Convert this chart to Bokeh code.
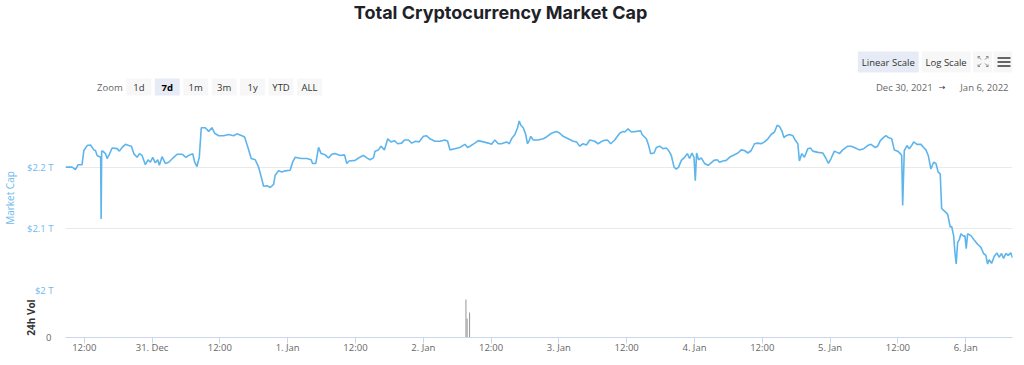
import pandas as pd
from bokeh.plotting import figure
from bokeh.layouts import column
from bokeh.models import Range1d, FixedTicker, CustomJSTickFormatter
from bokeh.core.properties import value
from bokeh.embed import file_html
from bokeh.resources import INLINE

# ---------------- data ----------------
title_text = "Total Cryptocurrency Market Cap"
origin = "2021-12-30 00:00"

# hours after Dec 30 2021 00:00, and total market cap in trillions of USD
hours = [
    8.68, 9.86, 10.44, 10.92, 11.61, 11.93, 12.51, 13.10, 13.70, 13.98, 14.28, 14.69, 14.90, 14.99, 15.08,
    15.29, 15.75, 16.05, 16.35, 16.93, 17.81, 18.22, 18.70, 19.28, 19.88, 20.34, 20.77, 21.35, 21.76,
    22.23, 22.82, 23.29, 23.70, 24.12, 24.58, 25.01, 25.29, 25.77, 26.35, 26.95, 27.84, 28.42, 29.30,
    30.01, 30.49, 31.19, 31.55, 31.95, 32.36, 32.71, 33.42, 34.02, 34.60, 35.08, 35.79, 36.67, 37.55,
    38.44, 39.02, 39.91, 40.38, 40.97, 41.55, 42.26, 42.86, 43.32, 43.74, 44.32, 44.91, 45.51, 45.79,
    46.39, 46.97, 47.56, 48.44, 48.87, 49.33, 49.93, 50.51, 51.39, 52.15, 52.40, 52.98, 53.46, 53.92,
    54.63, 55.23, 55.81, 56.39, 57.28, 58.06, 58.46, 58.87, 59.93, 60.41, 60.94,
    61.41, 62.00, 62.58, 63.18, 63.46, 64.06, 64.52, 65.12, 65.71, 66.29, 66.89, 67.48, 68.18, 68.66,
    69.37, 69.95, 70.66, 71.24, 72.02, 72.60, 73.18, 74.07, 74.95, 75.83, 76.31, 76.72, 77.60, 78.49,
    79.37, 79.84, 80.25, 81.14, 81.74, 82.62, 83.50, 84.09, 84.67, 85.27, 85.85, 86.74, 87.22, 87.62,
    88.21, 88.68, 88.98, 89.27, 89.69, 90.10, 90.45, 90.75, 91.03, 91.46, 92.34, 93.22, 93.81, 94.69,
    95.58, 96.16, 96.76, 97.64, 98.53, 99.11, 99.69, 100.29, 100.88, 101.46, 102.34, 102.94,
    103.83, 104.59, 105.17, 105.88, 106.76, 107.36, 107.65, 108.25, 108.83, 109.71, 110.47, 110.72,
    111.48, 111.89, 112.24, 112.84, 113.25, 113.83, 114.43, 115.01, 115.42, 115.90, 116.38, 116.78,
    117.19, 117.67, 118.25, 118.73, 119.13, 119.56, 119.91, 120.14, 120.37, 120.72, 121.20, 121.78,
    122.38, 122.84, 123.44, 124.03, 124.43, 125.03, 125.62, 126.20, 126.80, 127.69, 128.27, 128.85,
    129.45, 130.04, 130.62, 131.22, 131.81, 132.39, 132.99, 133.57, 134.16, 134.63, 135.04, 135.46,
    135.82, 136.22, 136.81, 137.41, 137.81, 138.29, 138.57, 138.99, 139.45, 140.06, 140.52, 140.94,
    141.83, 142.71, 143.29, 143.70, 144.17, 144.76, 145.23, 145.64, 146.24, 147.12,
    147.71, 148.29, 149.18, 149.95, 150.66, 151.24, 151.95, 152.43, 152.89, 153.59, 153.89, 154.30,
    154.90, 155.36, 155.96, 156.42, 156.67, 156.84, 157.13, 157.60, 158.01, 158.43, 158.79, 159.37,
    160.08, 160.56, 160.96, 161.37, 161.84, 162.32, 162.73, 163.13, 163.49, 163.74, 164.20, 164.80,
    165.26, 165.51, 165.86, 166.09, 166.32, 166.57, 166.85, 167.15, 167.63, 167.86, 168.09, 168.34,
    168.92, 169.50, 170.10, 170.69, 171.16, 171.57, 171.87, 172.15, 172.58, 173.04, 173.51, 173.92,
    174.34, 174.70, 175.10, 175.51, 175.98, 176.28,
]
market_cap_t = [
    2.200, 2.200, 2.196, 2.204, 2.204, 2.227, 2.235, 2.236, 2.228, 2.227, 2.219, 2.217, 2.217, 2.116, 2.226,
    2.226, 2.222, 2.214, 2.219, 2.231, 2.230, 2.226, 2.232, 2.237, 2.235, 2.234, 2.222, 2.216, 2.222,
    2.219, 2.204, 2.212, 2.208, 2.216, 2.207, 2.212, 2.203, 2.217, 2.206, 2.208, 2.216, 2.221, 2.221,
    2.216, 2.219, 2.222, 2.208, 2.201, 2.216, 2.264, 2.264, 2.258, 2.264, 2.255, 2.251, 2.251, 2.253,
    2.251, 2.254, 2.251, 2.249, 2.232, 2.214, 2.212, 2.200, 2.184, 2.169, 2.170, 2.167, 2.172, 2.187,
    2.194, 2.192, 2.194, 2.195, 2.208, 2.216, 2.215, 2.214, 2.214, 2.212, 2.206, 2.206, 2.232, 2.222,
    2.220, 2.215, 2.221, 2.222, 2.219, 2.220, 2.206, 2.210, 2.211, 2.214, 2.217,
    2.219, 2.215, 2.212, 2.215, 2.226, 2.228, 2.234, 2.228, 2.246, 2.241, 2.243, 2.238, 2.239, 2.244,
    2.244, 2.239, 2.242, 2.241, 2.250, 2.251, 2.246, 2.242, 2.242, 2.244, 2.242, 2.228, 2.230, 2.232,
    2.237, 2.232, 2.234, 2.239, 2.243, 2.241, 2.239, 2.237, 2.244, 2.238, 2.238, 2.241, 2.238, 2.246,
    2.253, 2.264, 2.275, 2.268, 2.264, 2.254, 2.238, 2.243, 2.250, 2.244, 2.244, 2.246, 2.249, 2.255,
    2.258, 2.255, 2.250, 2.246, 2.242, 2.241, 2.234, 2.238, 2.236, 2.244, 2.242, 2.238,
    2.243, 2.244, 2.238, 2.244, 2.255, 2.258, 2.257, 2.262, 2.257, 2.258, 2.259, 2.253,
    2.246, 2.235, 2.222, 2.223, 2.232, 2.234, 2.230, 2.231, 2.227, 2.219, 2.200, 2.197,
    2.200, 2.211, 2.216, 2.222, 2.214, 2.223, 2.216, 2.178, 2.223, 2.212, 2.215, 2.206,
    2.203, 2.206, 2.211, 2.212, 2.208, 2.210, 2.211, 2.216, 2.219, 2.223, 2.228, 2.227,
    2.223, 2.227, 2.238, 2.239, 2.238, 2.241, 2.246, 2.253, 2.257, 2.268, 2.266, 2.259,
    2.248, 2.251, 2.253, 2.251, 2.244, 2.238, 2.210, 2.222, 2.216, 2.230, 2.231, 2.226,
    2.224, 2.223, 2.214, 2.206, 2.214, 2.226, 2.224, 2.222, 2.228, 2.234,
    2.234, 2.232, 2.228, 2.230, 2.235, 2.237, 2.232, 2.234, 2.243, 2.249, 2.251, 2.248,
    2.246, 2.228, 2.226, 2.222, 2.219, 2.138, 2.227, 2.235, 2.230, 2.235, 2.241, 2.237,
    2.237, 2.232, 2.228, 2.219, 2.197, 2.208, 2.206, 2.192, 2.189, 2.133, 2.129, 2.124,
    2.103, 2.104, 2.089, 2.062, 2.043, 2.078, 2.082, 2.092, 2.088, 2.089, 2.068, 2.092,
    2.089, 2.082, 2.075, 2.070, 2.060, 2.057, 2.043, 2.050, 2.044, 2.055, 2.061, 2.054,
    2.060, 2.052, 2.060, 2.057, 2.061, 2.053,
]

vol_hours = [79.55, 79.76, 80.20]
vol_t = [1.90, 0.95, 1.25]

x_tick_times = [
    "2021-12-30 12:00", "2021-12-31 00:00", "2021-12-31 12:00", "2022-01-01 00:00",
    "2022-01-01 12:00", "2022-01-02 00:00", "2022-01-02 12:00", "2022-01-03 00:00",
    "2022-01-03 12:00", "2022-01-04 00:00", "2022-01-04 12:00", "2022-01-05 00:00",
    "2022-01-05 12:00", "2022-01-06 00:00",
]
x_tick_labels = ["12:00", "31. Dec", "12:00", "1. Jan", "12:00", "2. Jan", "12:00",
                 "3. Jan", "12:00", "4. Jan", "12:00", "5. Jan", "12:00", "6. Jan"]
y_ticks = [2.0, 2.1, 2.2, 2.3]
y_tick_labels = ["$2 T", "$2.1 T", "$2.2 T", ""]
vol_ticks = [0.0]
vol_tick_labels = ["0"]

zoom_buttons = ["1d", "7d", "1m", "3m", "1y", "YTD", "ALL"]
selected_zoom = "7d"
scale_buttons = ["Linear Scale", "Log Scale"]
range_from, range_to = "Dec 30, 2021", "Jan 6, 2022"

# ---------------- style ----------------
FONT_NAME = "Open Sans"
FONT = value(FONT_NAME)
LINE = "#5db5ec"
BLUE = "#6fbaee"
GRID = "#e9e9e9"
W = 1024
BL, BR = 63, 12   # left / right borders so that the frame spans x 63..1012

JS_FMT = """
let best = -1, bd = Infinity;
for (let i = 0; i < tvals.length; i++) {
  const d = Math.abs(tvals[i] - tick);
  if (d < bd) { bd = d; best = i; }
}
return (best >= 0 && bd <= 1e-6 * Math.max(1, Math.abs(tick))) ? tlabels[best] : "";
"""


def fmt(vals, labels):
    return CustomJSTickFormatter(args=dict(tvals=vals, tlabels=labels), code=JS_FMT)


t0 = pd.Timestamp(origin)
times = t0 + pd.to_timedelta(hours, unit="h")
vol_times = t0 + pd.to_timedelta(vol_hours, unit="h")
x_tick_ms = [int(pd.Timestamp(t).value // 10**6) for t in x_tick_times]

x_range = Range1d(start=times[0].to_pydatetime(), end=times[-1].to_pydatetime())

# ---------------- header (title, buttons); its frame is in page pixels ----------------
head = figure(width=W, height=100, x_range=Range1d(BL, W - BR), y_range=Range1d(100, 0),
              output_backend="svg", toolbar_location=None,
              min_border_left=BL, min_border_right=BR, min_border_top=0, min_border_bottom=0,
              x_axis_location=None, y_axis_location=None, outline_line_color=None)
head.xgrid.visible = False
head.ygrid.visible = False

head.text(x=[499], y=[11.5], text=[title_text], text_align="center", text_baseline="middle",
          text_font=value("Inter"), text_font_size="18px", text_font_style="bold", text_color="#1e2228")

# scale buttons
sb_left = [857, 921]
sb_right = [918, 970]
head.quad(left=sb_left, right=sb_right, top=[51, 51], bottom=[72, 72],
          fill_color=["#e6ebf5", "#f7f7f7"], line_color=None)
head.text(x=[(a + b) / 2 for a, b in zip(sb_left, sb_right)], y=[61.5, 61.5], text=scale_buttons,
          text_align="center", text_baseline="middle", text_font=FONT, text_font_size="9.5px",
          text_color="#333333")
# fullscreen + menu buttons
head.quad(left=[972.5, 993], right=[991.5, 1012], top=[51, 51], bottom=[72, 72],
          fill_color="#f7f7f7", line_color=None)
head.segment(x0=[977.5, 987.5, 977.5, 987.5], y0=[56, 56, 66, 66],
             x1=[980.5, 984.5, 980.5, 984.5], y1=[59, 59, 63, 63], line_color="#8a8a8a", line_width=1)
head.segment(x0=[977.5, 977.5, 987.5, 987.5, 977.5, 977.5, 987.5, 987.5],
             y0=[56, 56, 56, 56, 66, 66, 66, 66],
             x1=[979.5, 977.5, 985.5, 987.5, 979.5, 977.5, 985.5, 987.5],
             y1=[56, 58, 56, 58, 66, 64, 66, 64], line_color="#8a8a8a", line_width=1)
head.segment(x0=[997, 997, 997], y0=[57.5, 61.5, 65.5], x1=[1010, 1010, 1010], y1=[57.5, 61.5, 65.5],
             line_color="#666666", line_width=2)

# zoom row
head.text(x=[107.5], y=[86.5], text=["Zoom"], text_align="center", text_baseline="middle",
          text_font=FONT, text_font_size="9.5px", text_color="#666666")
zc = [136.5 + 28.5 * i for i in range(len(zoom_buttons))]
head.quad(left=[c - 12.5 for c in zc], right=[c + 12.5 for c in zc], top=[78] * len(zc), bottom=[95] * len(zc),
          fill_color=["#e6ebf5" if b == selected_zoom else "#f7f7f7" for b in zoom_buttons], line_color=None)
head.text(x=[c for c, b in zip(zc, zoom_buttons) if b != selected_zoom], y=[86.5] * (len(zc) - 1),
          text=[b for b in zoom_buttons if b != selected_zoom], text_align="center", text_baseline="middle",
          text_font=FONT, text_font_size="9.5px", text_color="#333333")
head.text(x=[c for c, b in zip(zc, zoom_buttons) if b == selected_zoom], y=[86.5],
          text=[selected_zoom], text_align="center", text_baseline="middle",
          text_font=FONT, text_font_size="9.5px", text_font_style="bold", text_color="#000000")

# date range
head.text(x=[932], y=[86.5], text=[range_from], text_align="right", text_baseline="middle",
          text_font=FONT, text_font_size="9.5px", text_color="#666666")
head.text(x=[941.5], y=[86.5], text=["\u2192"], text_align="center", text_baseline="middle",
          text_font=value("DejaVu Sans"), text_font_size="8px", text_color="#333333")
head.text(x=[1008], y=[86.5], text=[range_to], text_align="right", text_baseline="middle",
          text_font=FONT, text_font_size="9.5px", text_color="#666666")

# ---------------- main pane ----------------
main = figure(width=W, height=197, x_axis_type="datetime", x_range=x_range, y_range=Range1d(2.0, 2.3),
              x_axis_location=None, output_backend="svg", toolbar_location=None,
              min_border_left=BL, min_border_right=BR, min_border_top=5, min_border_bottom=7,
              outline_line_color=None)
main.line(times, market_cap_t, line_color=LINE, line_width=1.6)
main.xgrid.visible = False
main.ygrid.ticker = FixedTicker(ticks=y_ticks)
main.ygrid.grid_line_color = GRID
ya = main.yaxis[0]
ya.ticker = FixedTicker(ticks=y_ticks)
ya.formatter = fmt(y_ticks, y_tick_labels)
ya.axis_line_color = None
ya.major_tick_line_color = None
ya.minor_tick_line_color = None
ya.major_tick_out = 0
ya.major_tick_in = 0
ya.major_label_standoff = 12
ya.major_label_text_color = BLUE
ya.major_label_text_font = FONT_NAME
ya.major_label_text_font_size = "9.5px"
ya.axis_label = "Market Cap"
ya.axis_label_standoff = 7
ya.axis_label_text_color = BLUE
ya.axis_label_text_font = FONT_NAME
ya.axis_label_text_font_size = "10px"
ya.axis_label_text_font_style = "normal"

# ---------------- volume pane ----------------
vol = figure(width=W, height=60, x_axis_type="datetime", x_range=x_range, y_range=Range1d(0, 2.0),
             output_backend="svg", toolbar_location=None,
             min_border_left=BL, min_border_right=BR, min_border_top=0, min_border_bottom=20,
             outline_line_color=None)
vol.vbar(x=vol_times, top=vol_t, width=600000, fill_color="#8f8f8f", line_color=None)
vol.xgrid.visible = False
vol.ygrid.visible = False
xa = vol.xaxis[0]
xa.ticker = FixedTicker(ticks=x_tick_ms)
xa.formatter = fmt(x_tick_ms, x_tick_labels)
xa.axis_line_color = "#ccd6eb"
xa.major_tick_line_color = "#ccd6eb"
xa.minor_tick_line_color = None
xa.major_tick_in = 0
xa.major_tick_out = 6
xa.major_label_standoff = -3
xa.major_label_text_color = "#666666"
xa.major_label_text_font = FONT_NAME
xa.major_label_text_font_size = "9.5px"
va = vol.yaxis[0]
va.ticker = FixedTicker(ticks=vol_ticks)
va.formatter = fmt(vol_ticks, vol_tick_labels)
va.axis_line_color = None
va.major_tick_line_color = None
va.minor_tick_line_color = None
va.major_tick_out = 0
va.major_tick_in = 0
va.major_label_standoff = 14
va.major_label_text_color = "#666666"
va.major_label_text_font = FONT_NAME
va.major_label_text_font_size = "9.5px"
va.axis_label = "24h Vol"
va.axis_label_standoff = 5
va.axis_label_text_color = "#333333"
va.axis_label_text_font = FONT_NAME
va.axis_label_text_font_size = "10px"
va.axis_label_text_font_style = "bold"

layout = column(head, main, vol)
open("out.html", "w").write(file_html(layout, INLINE))
